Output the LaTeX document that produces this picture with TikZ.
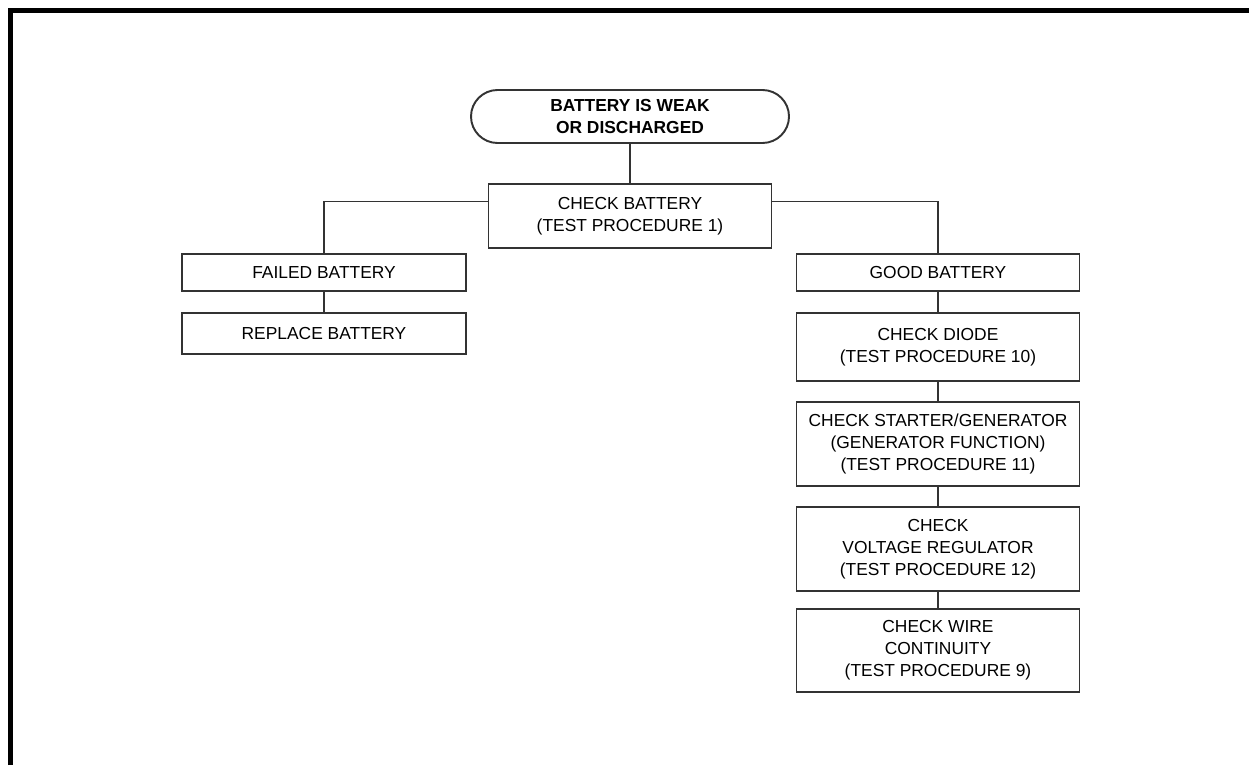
\documentclass[tikz,border=0pt]{standalone}
\usepackage{fontspec}
\setmainfont{Liberation Sans}
\usetikzlibrary{positioning,calc}

\begin{document}
\begin{tikzpicture}[
    box/.style={draw=black!80, line width=0.7pt, minimum width=5.66cm, inner sep=0pt, align=center, font=\fontsize{9.9}{12.4}\selectfont},
    link/.style={draw=black!80, line width=0.6pt}
]
    % Page frame
    \useasboundingbox (0,0) rectangle (24.98,-15.3);
    \draw[line width=0.1cm] (0.21,-15.3) -- (0.21,-0.21) -- (24.98,-0.21);

    % Start and first check
    \node[box, line width=1.1pt, minimum width=6.36cm, minimum height=1.06cm, rounded corners=0.53cm, font=\fontsize{9.9}{12.4}\selectfont\bfseries] (start) at (12.6,-2.33) {BATTERY IS WEAK\\OR DISCHARGED};
    \node[box, minimum height=1.28cm] (chkbat) at (12.6,-4.32) {CHECK BATTERY\\(TEST PROCEDURE 1)};

    % Failed branch
    \node[box, minimum width=5.68cm, minimum height=0.74cm] (failed) at (6.48,-5.45) {FAILED BATTERY};
    \node[box, minimum width=5.68cm, minimum height=0.82cm] (replace) at (6.48,-6.67) {REPLACE BATTERY};

    % Good branch
    \node[box, minimum height=0.74cm] (good) at (18.76,-5.45) {GOOD BATTERY};
    \node[box, minimum height=1.36cm] (diode) at (18.76,-6.94) {CHECK DIODE\\(TEST PROCEDURE 10)};
    \node[box, minimum height=1.68cm] (starter) at (18.76,-8.88) {CHECK STARTER/GENERATOR\\(GENERATOR FUNCTION)\\(TEST PROCEDURE 11)};
    \node[box, minimum height=1.68cm] (volt) at (18.76,-10.98) {CHECK\\VOLTAGE REGULATOR\\(TEST PROCEDURE 12)};
    \node[box, minimum height=1.66cm] (wire) at (18.76,-13.01) {CHECK WIRE\\CONTINUITY\\(TEST PROCEDURE 9)};

    % Connectors
    \draw[link] (start) -- (chkbat);
    \draw[link] (failed.north) |- ($(chkbat.north west)!0.28!(chkbat.south west)$);
    \draw[link] (good.north) |- ($(chkbat.north east)!0.28!(chkbat.south east)$);
    \draw[link] (failed) -- (replace);
    \draw[link] (good) -- (diode);
    \draw[link] (diode) -- (starter);
    \draw[link] (starter) -- (volt);
    \draw[link] (volt) -- (wire);
\end{tikzpicture}
\end{document}
